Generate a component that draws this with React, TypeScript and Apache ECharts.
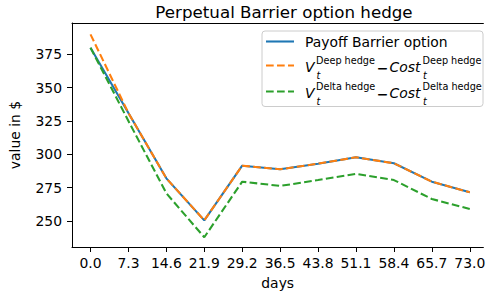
import React, { useEffect, useRef } from "react";
import * as echarts from "echarts";

const days = [0, 7.3, 14.6, 21.9, 29.2, 36.5, 43.8, 51.1, 58.4, 65.7, 73.0];
const payoffBarrier = [380, 331, 282, 250.5, 291.5, 288.8, 293, 297.8, 293.3, 279.5, 271.5];
const deepHedge = [390, 331, 282, 250.5, 291.5, 288.8, 293, 297.8, 293.3, 279.5, 271.5];
const deltaHedge = [380, 325, 270.8, 237.8, 279.5, 276.3, 280.7, 285.3, 280.7, 266.5, 259];
const xTicks = [0, 7.3, 14.6, 21.9, 29.2, 36.5, 43.8, 51.1, 58.4, 65.7, 73.0];
const yTicks = [250, 275, 300, 325, 350, 375];

const FONT = "DejaVu Sans";
const BLUE = "#1f77b4";
const ORANGE = "#ff7f0e";
const GREEN = "#2ca02c";

export default function App() {
  const ref = useRef<HTMLDivElement>(null);
  useEffect(() => {
    if (!ref.current) return;
    const chart = echarts.init(ref.current, undefined, { renderer: "svg" });
    const pair = (xs: number[], ys: number[]) => xs.map((x, i) => [x, ys[i]]);
    const txt = (text: string, x: number, y: number, size: number, opts: any = {}) => ({
      type: "text",
      z: 101,
      style: {
        text,
        x,
        y,
        fill: "#000",
        fontSize: size,
        fontFamily: FONT,
        fontStyle: opts.italic ? "italic" : "normal",
        fontWeight: opts.bold ? "bold" : "normal",
        align: opts.align || "left",
        verticalAlign: "middle",
      },
    });
    const mathRow = (label: string, yc: number) => [
      txt("V", 305, yc, 13.9, { italic: true }),
      txt(label, 316, yc - 6.5, 9.7),
      txt("t", 316.5, yc + 8.5, 9.7, { italic: true }),
      txt("\u2212", 382.5, yc + 0.5, 13.9, { align: "center", bold: true }),
      txt("Cost", 389.5, yc, 13.9, { italic: true }),
      txt(label, 422.5, yc - 6.5, 9.7),
      txt("t", 423, yc + 8.5, 9.7, { italic: true }),
    ];
    chart.setOption({
      animation: false,
      title: {
        text: "Perpetual Barrier option hedge",
        left: 279,
        textAlign: "center",
        top: -2,
        textStyle: { fontFamily: FONT, fontSize: 16.7, fontWeight: "normal", color: "#000" },
      },
      grid: { left: 65, top: 23, right: 0, bottom: 49 },
      xAxis: [
        {
          type: "value",
          min: -3.56,
          max: 75.62,
          name: "days",
          nameLocation: "middle",
          nameGap: 29,
          nameTextStyle: { fontFamily: FONT, fontSize: 13.9, color: "#000" },
          axisLine: { show: true, onZero: false, lineStyle: { color: "#000", width: 1 } },
          axisTick: { show: true, inside: false, length: 5, customValues: xTicks, lineStyle: { color: "#000" } },
          axisLabel: {
            customValues: xTicks,
            margin: 9,
            fontFamily: FONT,
            fontSize: 13.9,
            color: "#000",
            formatter: (v: number) => v.toFixed(1),
          },
          splitLine: { show: false },
        },
        {
          type: "value",
          position: "top",
          min: -3.56,
          max: 75.62,
          axisLine: { show: true, onZero: false, lineStyle: { color: "#000", width: 1 } },
          axisTick: { show: false },
          axisLabel: { show: false },
          splitLine: { show: false },
        },
      ],
      yAxis: {
        type: "value",
        min: 230.5,
        max: 398.5,
        name: "value in $",
        nameLocation: "middle",
        nameGap: 50,
        nameRotate: 90,
        nameTextStyle: { fontFamily: FONT, fontSize: 13.9, color: "#000" },
        axisLine: { show: true, onZero: false, lineStyle: { color: "#000", width: 1 } },
        axisTick: { show: true, inside: false, length: 5, customValues: yTicks, lineStyle: { color: "#000" } },
        axisLabel: { customValues: yTicks, margin: 10, fontFamily: FONT, fontSize: 13.9, color: "#000" },
        splitLine: { show: false },
      },
      series: [
        {
          name: "Payoff Barrier option",
          type: "line",
          data: pair(days, payoffBarrier),
          symbol: "none",
          lineStyle: { color: BLUE, width: 2.08 },
          z: 2,
        },
        {
          name: "Deep hedge",
          type: "line",
          data: pair(days, deepHedge),
          symbol: "none",
          lineStyle: { color: ORANGE, width: 2.08, type: [7.7, 3.3] },
          z: 3,
        },
        {
          name: "Delta hedge",
          type: "line",
          data: pair(days, deltaHedge),
          symbol: "none",
          lineStyle: { color: GREEN, width: 2.08, type: [7.7, 3.3] },
          z: 4,
        },
      ],
      graphic: [
        {
          type: "rect",
          z: 100,
          shape: { x: 262, y: 31, width: 221, height: 75.5, r: 3 },
          style: { fill: "rgba(255,255,255,0.8)", stroke: "#cccccc", lineWidth: 1 },
        },
        {
          type: "line",
          z: 101,
          shape: { x1: 266, y1: 41.5, x2: 294, y2: 41.5 },
          style: { stroke: BLUE, lineWidth: 2.08 },
        },
        {
          type: "line",
          z: 101,
          shape: { x1: 266, y1: 65.5, x2: 294, y2: 65.5 },
          style: { stroke: ORANGE, lineWidth: 2.08, lineDash: [7.7, 3.3] },
        },
        {
          type: "line",
          z: 101,
          shape: { x1: 266, y1: 91.5, x2: 294, y2: 91.5 },
          style: { stroke: GREEN, lineWidth: 2.08, lineDash: [7.7, 3.3] },
        },
        txt("Payoff Barrier option", 305, 41.5, 13.9),
        ...mathRow("Deep hedge", 67),
        ...mathRow("Delta hedge", 93),
      ],
    });
    return () => chart.dispose();
  }, []);
  return (
    <div
      ref={ref}
      style={{ position: "fixed", left: 0, top: 0, width: 488, height: 296, background: "#fff" }}
    />
  );
}
